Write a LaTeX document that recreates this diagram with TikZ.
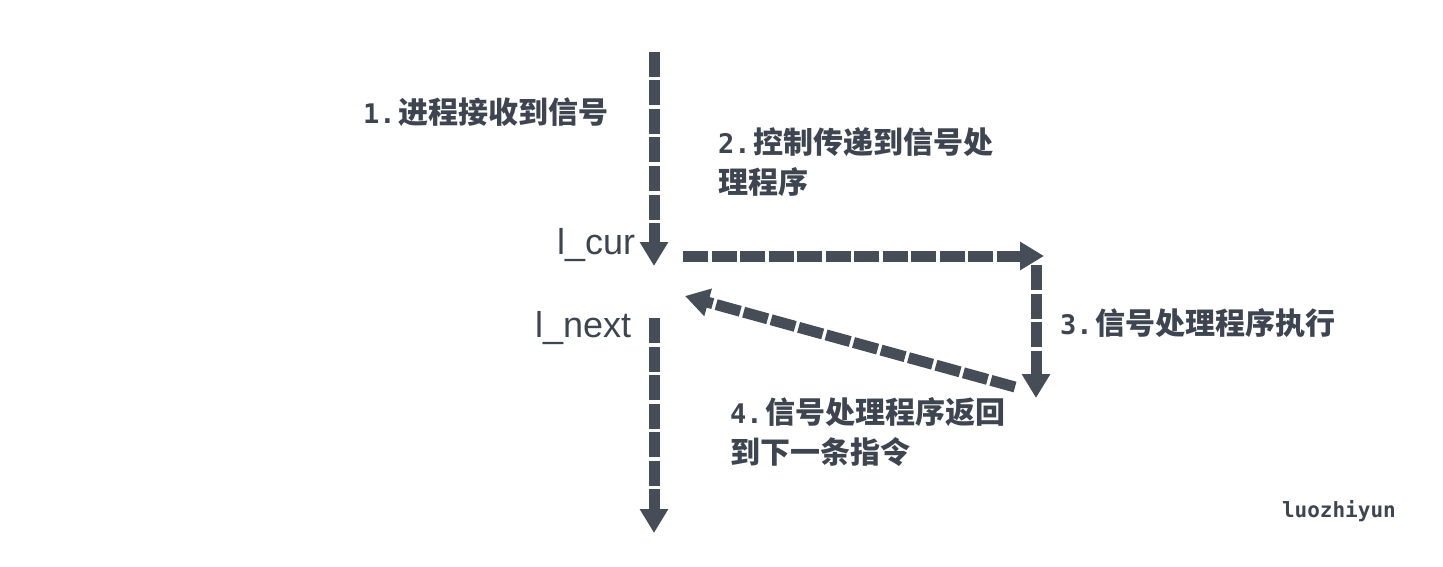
\documentclass[tikz,border=0pt]{standalone}
\usepackage{fontspec}
\setmainfont{Liberation Sans}
\newfontfamily\cjk{Noto Sans CJK SC}
\newfontfamily\monof{DejaVu Sans Mono}
\usetikzlibrary{arrows.meta}
\definecolor{ink}{HTML}{474D57}
\definecolor{txt}{HTML}{3F4550}
\tikzset{
  flow/.style={draw=ink, line width=11pt, line cap=butt, dash pattern=on 25pt off 3.5pt,
    -{Triangle[width=27pt,length=24pt]}},
  lab/.style={anchor=west, inner sep=0pt, text=txt, font=\cjk\bfseries\fontsize{30}{40}\selectfont, align=left},
  var/.style={anchor=west, inner sep=0pt, text=txt, font=\fontsize{36}{40}\selectfont}
}
\newcommand{\nm}[1]{\makebox[35pt][l]{\monof\bfseries\fontsize{27}{30}\selectfont #1}}
\begin{document}
\begin{tikzpicture}[x=1pt,y=-1pt]
\useasboundingbox (0,0) rectangle (1443,567);
\coordinate (a1s) at (654,52);
\coordinate (a1e) at (654,266);
\coordinate (a2s) at (683,256);
\coordinate (a2e) at (1044,256);
\coordinate (a3s) at (1036,265);
\coordinate (a3e) at (1036,398);
\coordinate (a4s) at (1015,387);
\coordinate (a4e) at (685,296);
\coordinate (a5s) at (654,318);
\coordinate (a5e) at (654,533);
\draw[flow] (a1s) -- (a1e);
\draw[flow] (a2s) -- (a2e);
\draw[flow] (a3s) -- (a3e);
\draw[flow] (a4s) -- (a4e);
\draw[flow] (a5s) -- (a5e);
\node[lab] (t1) at (363,112) {\nm{1.}进程接收到信号};
\node[lab] (t2) at (718,162) {\nm{2.}控制传递到信号处\\理程序};
\node[lab] (t3) at (1060,323) {\nm{3.}信号处理程序执行};
\node[lab] (t4) at (730,432) {\nm{4.}信号处理程序返回\\到下一条指令};
\node[var] (cur) at (557,245) {l\_cur};
\node[var] (nxt) at (535,328) {l\_next};
\node[anchor=east, inner sep=0pt, text=txt, font=\monof\bfseries\fontsize{21}{24}\selectfont] (sig) at (1396,511) {luozhiyun};
\end{tikzpicture}
\end{document}
